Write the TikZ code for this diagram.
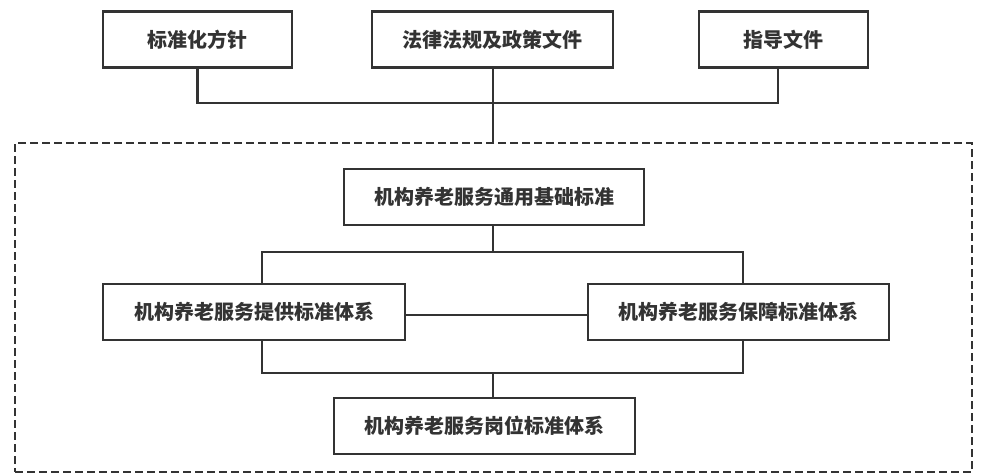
\documentclass[tikz,border=0pt]{standalone}
\usepackage{fontspec}
\newfontfamily\cjk{Noto Sans CJK SC}
\definecolor{ink}{HTML}{333333}
\begin{document}
\begin{tikzpicture}[x=1pt,y=-1pt,
  box/.style={draw=ink,line width=2.2pt,fill=white,minimum height=56pt,inner sep=0pt,
    font=\cjk\bfseries\fontsize{20pt}{23pt}\selectfont,text=ink},
  link/.style={draw=ink,line width=2.2pt},
  frame/.style={draw=ink,line width=2.2pt,dash pattern=on 8pt off 4pt,minimum width=957pt,minimum height=329pt,inner sep=0pt}]
\useasboundingbox (0,0) rectangle (981,474);
\node[frame] (fr) at (493.5,307.5) {};
\node[box,minimum width=189pt] (b1) at (197.5,39.5) {标准化方针};
\node[box,minimum width=241pt] (b2) at (492.5,39.5) {法律法规及政策文件};
\node[box,minimum width=169pt] (b3) at (783.5,39.5) {指导文件};
\node[box,minimum width=300pt] (gen) at (494,197) {机构养老服务通用基础标准};
\node[box,minimum width=302pt] (prov) at (254,312) {机构养老服务提供标准体系};
\node[box,minimum width=301pt] (gu) at (738.5,312) {机构养老服务保障标准体系};
\node[box,minimum width=301pt] (post) at (484.5,426) {机构养老服务岗位标准体系};
\coordinate (jt) at (493,103);
\coordinate (pl) at (262,252);
\coordinate (pr) at (743,252);
\coordinate (pm) at (493,252);
\coordinate (ql) at (262,373);
\coordinate (qr) at (743,373);
\coordinate (qm) at (493,373);
\draw[link] (b1.south) |- (jt);
\draw[link] ([xshift=-5.5pt]b3.south) |- (jt);
\draw[link] (b2.south -| jt) -- (fr.north -| jt);
\draw[link] (gen.south -| pm) -- (pm);
\draw[link] (prov.north -| pl) -- (pl) -- (pr) -- (gu.north -| pr);
\draw[link] ([yshift=-3pt]prov.east) -- ([yshift=-3pt]gu.west);
\draw[link] (prov.south -| ql) -- (ql) -- (qr) -- (gu.south -| qr);
\draw[link] (qm) -- (post.north -| qm);
\end{tikzpicture}
\end{document}
